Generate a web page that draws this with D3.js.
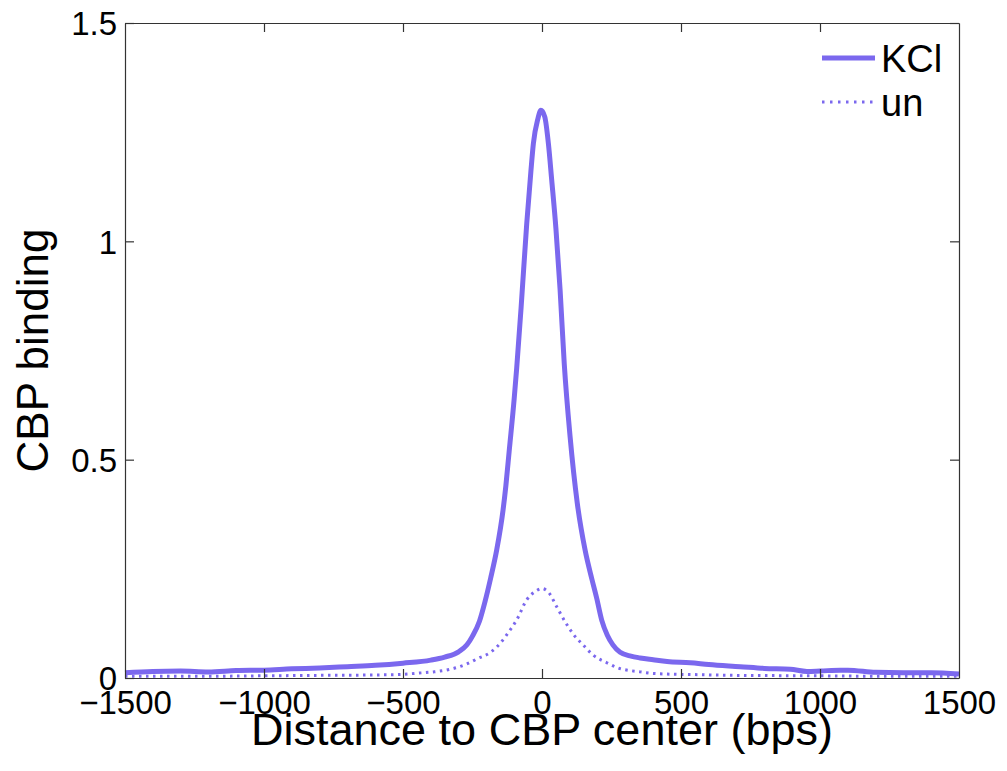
<!DOCTYPE html>
<html>
<head>
<meta charset="utf-8">
<script src="https://cdn.jsdelivr.net/npm/d3@7"></script>
<style>
  body { margin: 0; background: #fff; }
  text { font-family: "Liberation Sans", Arial, Helvetica, sans-serif; fill: #000; }
</style>
</head>
<body>
<div id="chart"></div>
<script>
var width = 1007,
    height = 771;
var margin = {left: 125, right: 48, top: 23, bottom: 93};

var seriesNames = ["KCl", "un"];
var xTicks = [-1500, -1000, -500, 0, 500, 1000, 1500];
var yTicks = [0, 0.5, 1, 1.5];

var kclX = [-1500, -1400, -1300, -1200, -1100, -1000, -900, -800, -700, -600, -500, -400, -350, -300, -270,
            -250, -225, -205, -185, -163, -140, -130, -118, -100, -91, -75, -55, -40, -31, -15, -4,
            10, 23, 35, 50, 65, 80, 101, 127, 155, 180, 197, 215, 235, 255, 281, 320, 353, 400, 450,
            533, 600, 713, 800, 893, 953, 1000, 1073, 1100, 1200, 1300, 1400, 1500];
var kclY = [0.012, 0.015, 0.016, 0.014, 0.017, 0.018, 0.021, 0.023, 0.026, 0.029, 0.034, 0.041, 0.048, 0.060, 0.076,
            0.096, 0.130, 0.175, 0.228, 0.293, 0.385, 0.440, 0.520, 0.640, 0.710, 0.850, 1.040, 1.160, 1.224, 1.280, 1.300,
            1.285, 1.224, 1.140, 1.030, 0.890, 0.720, 0.553, 0.400, 0.293, 0.225, 0.182, 0.132, 0.098, 0.076, 0.059, 0.050, 0.046, 0.042, 0.038,
            0.035, 0.031, 0.026, 0.022, 0.020, 0.015, 0.016, 0.018, 0.018, 0.013, 0.012, 0.012, 0.009];

var unX = [-1500, -1200, -1000, -800, -600, -511, -450, -391, -330, -271, -230, -187, -151, -120, -91, -55, -25, 0,
           25, 53, 83, 113, 149, 185, 233, 269, 353, 389, 450, 533, 700, 1000, 1200, 1500];
var unY = [0.004, 0.004, 0.005, 0.006, 0.007, 0.008, 0.011, 0.014, 0.020, 0.032, 0.045, 0.058, 0.079, 0.105, 0.133, 0.179, 0.198, 0.205,
           0.195, 0.163, 0.129, 0.100, 0.075, 0.052, 0.035, 0.024, 0.014, 0.011, 0.009, 0.008, 0.006, 0.005, 0.004, 0.004];

var color = "#7b68ee";

var svg = d3.select("#chart").append("svg")
    .attr("width", width)
    .attr("height", height);

var x = d3.scaleLinear().domain([-1500, 1500]).range([margin.left, width - margin.right]);
var y = d3.scaleLinear().domain([0, 1.5]).range([height - margin.bottom, margin.top]);

var line = d3.line()
    .x(function (d) { return x(d[0]); })
    .y(function (d) { return y(d[1]); })
    .curve(d3.curveMonotoneX);

var kclData = d3.zip(kclX, kclY),
    unData = d3.zip(unX, unY);

svg.append("path")
    .datum(unData)
    .attr("d", line)
    .style("fill", "none")
    .style("stroke", color)
    .style("stroke-width", 3)
    .style("stroke-dasharray", "2.5,4.5");

svg.append("path")
    .datum(kclData)
    .attr("d", line)
    .style("fill", "none")
    .style("stroke", color)
    .style("stroke-width", 5)
    .style("stroke-linejoin", "round");

// box + inward ticks on all four sides
var tickLen = 9;
var axBottom = svg.append("g").attr("transform", "translate(0," + y(0) + ")")
    .call(d3.axisBottom(x).tickValues(xTicks).tickSizeInner(-tickLen).tickSizeOuter(0)
        .tickFormat(function (d) { return d3.format("")(d).replace("-", "\u2212"); }));
axBottom.selectAll("text").attr("dy", 0).attr("y", 36).attr("font-size", 33);

svg.append("g").attr("transform", "translate(0," + y(1.5) + ")")
    .call(d3.axisTop(x).tickValues(xTicks).tickSizeInner(-tickLen).tickSizeOuter(0).tickFormat(""));

var axLeft = svg.append("g").attr("transform", "translate(" + x(-1500) + ",0)")
    .call(d3.axisLeft(y).tickValues(yTicks).tickSizeInner(-tickLen).tickSizeOuter(0)
        .tickFormat(function (d) { return String(d); }));
axLeft.selectAll("text").attr("x", -8).attr("dy", "0.36em").attr("font-size", 33);

svg.append("g").attr("transform", "translate(" + x(1500) + ",0)")
    .call(d3.axisRight(y).tickValues(yTicks).tickSizeInner(-tickLen).tickSizeOuter(0).tickFormat(""));

svg.selectAll(".domain").style("stroke", "#333").style("stroke-width", 1.2);
svg.selectAll(".tick line").style("stroke", "#333").style("stroke-width", 1.2);
svg.selectAll(".tick text").style("fill", "#000");
// hide ticks at the box corners
svg.selectAll(".tick").filter(function (d) { return d === -1500 || d === 1500; }).select("line").remove();

// axis titles
svg.append("text")
    .attr("x", (x(-1500) + x(1500)) / 2)
    .attr("y", 745)
    .attr("text-anchor", "middle")
    .attr("font-size", 45)
    .text("Distance to CBP center (bps)");

svg.append("text")
    .attr("transform", "translate(48," + (y(0.75)) + ") rotate(-90)")
    .attr("text-anchor", "middle")
    .attr("font-size", 44)
    .text("CBP binding");

// legend
var legend = svg.append("g");
seriesNames.forEach(function (name, i) {
    var ly = 58 + i * 44;
    legend.append("line")
        .attr("x1", 822).attr("x2", 875)
        .attr("y1", ly).attr("y2", ly)
        .style("stroke", color)
        .style("stroke-width", i === 0 ? 5 : 3)
        .style("stroke-dasharray", i === 0 ? null : "2.5,5.5");
    legend.append("text")
        .attr("x", 881)
        .attr("y", ly + 14)
        .attr("font-size", 38)
        .text(name);
});
</script>
</body>
</html>
